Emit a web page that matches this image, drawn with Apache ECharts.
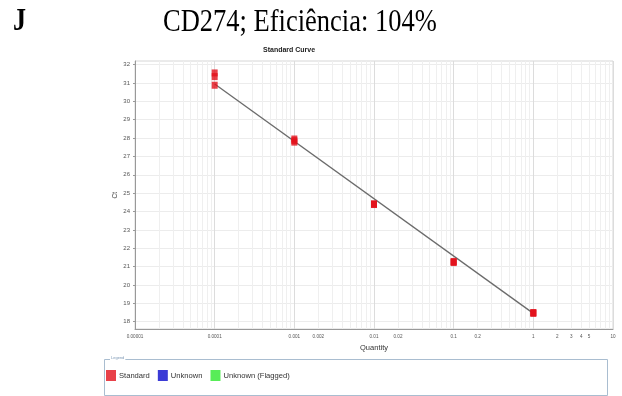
<!DOCTYPE html>
<html>
<head>
<meta charset="utf-8">
<script src="https://cdn.jsdelivr.net/npm/echarts@6/dist/echarts.min.js"></script>
<style>
  html, body { margin: 0; padding: 0; background: #fff; }
  #chart { width: 622px; height: 396px; }
</style>
</head>
<body>
<div id="chart"></div>
<script>
// Standard-curve replicates: quantity and Ct value of each well
const stdQuantity = [0.0001, 0.0001, 0.0001, 0.001, 0.001, 0.001, 0.01, 0.01, 0.01, 0.1, 0.1, 0.1, 1, 1, 1];
const stdCt       = [31.55, 31.35, 30.88, 27.95, 27.78, 27.86, 24.38, 24.42, 24.40, 21.22, 21.28, 21.25, 18.45, 18.50, 18.48];

// Fitted regression line end points
const fitQuantity = [0.0001, 1];
const fitCt       = [30.95, 18.45];

// Axis ticks
const xTickValues = [0.00001, 0.0001, 0.001, 0.002, 0.01, 0.02, 0.1, 0.2, 1, 2, 3, 4, 5, 10];
const xTickLabels = ['0.00001', '0.0001', '0.001', '0.002', '0.01', '0.02', '0.1', '0.2', '1', '2', '3', '4', '5', '10'];
const xDecades = [0.00001, 0.0001, 0.001, 0.01, 0.1, 1, 10];
const xMinorMultipliers = [2, 3, 4, 5, 6, 7, 8, 9];
const yTicks = [18, 19, 20, 21, 22, 23, 24, 25, 26, 27, 28, 29, 30, 31, 32];

// Log-grid lines: every 1..9 step inside each decade
const xMinorGrid = [];
xDecades.slice(0, -1).forEach(d => {
  xMinorMultipliers.forEach(m => xMinorGrid.push(+(d * m).toPrecision(3)));
});

const chart = echarts.init(document.getElementById('chart'));

const logAxisBase = {
  type: 'log',
  logBase: 10,
  min: 0.00001,
  max: 10,
  gridIndex: 0
};

chart.setOption({
  animation: false,
  backgroundColor: '#fff',
  graphic: [
    {
      type: 'text', left: 13, top: 6, scaleY: 1.2,
      style: { text: 'J', font: 'bold 26px "Liberation Serif"', fill: '#000' }
    },
    {
      type: 'text', left: 163, top: 6, scaleY: 1.2,
      style: { text: 'CD274; Eficiência: 104%', font: '26.5px "Liberation Serif"', fill: '#000' }
    },
    {
      type: 'text', left: 263, top: 47,
      style: { text: 'Standard Curve', font: 'bold 7px "Liberation Sans"', fill: '#222' }
    },
    {
      type: 'text', left: 112, top: 192, rotation: Math.PI / 2,
      style: { text: 'Ct', font: '6.5px "Liberation Sans"', fill: '#444' }
    },
    {
      type: 'rect', left: 104, top: 359, z: 0,
      shape: { width: 503, height: 36 },
      style: { fill: '#fff', stroke: '#a9bdd0', lineWidth: 1 }
    },
    {
      type: 'text', left: 110, top: 356, z: 2,
      style: { text: 'Legend', font: '4px "Liberation Sans"', fill: '#7d98b5', backgroundColor: '#fff', padding: [0, 1] }
    }
  ],
  legend: {
    left: 101,
    top: 365,
    icon: 'rect',
    itemWidth: 10,
    itemHeight: 11,
    itemGap: 8,
    textStyle: { fontFamily: 'Liberation Sans', fontSize: 7.6, color: '#333', padding: [0, 0, 0, -2] },
    data: ['Standard', 'Unknown', 'Unknown (Flagged)']
  },
  grid: { left: 135, right: 9, top: 61, bottom: 67, show: true, borderColor: '#d6d6d6', borderWidth: 1 },
  xAxis: [
    Object.assign({}, logAxisBase, {
      name: 'Quantity',
      nameLocation: 'middle',
      nameGap: 13,
      nameTextStyle: { fontFamily: 'Liberation Sans', fontSize: 7.5, color: '#333' },
      axisLine: { show: true, lineStyle: { color: '#999', width: 1 } },
      axisTick: { show: false, customValues: xMinorGrid },
      axisLabel: {
        customValues: xTickValues,
        fontFamily: 'Liberation Sans', fontSize: 4.6, color: '#555', margin: 5,
        formatter: v => {
          const i = xTickValues.findIndex(t => Math.abs(Math.log10(t) - Math.log10(v)) < 1e-6);
          return i >= 0 ? xTickLabels[i] : '';
        }
      },
      splitLine: { show: true, lineStyle: { color: '#efefef', width: 1 } }
    }),
    Object.assign({}, logAxisBase, {
      position: 'bottom',
      axisLine: { show: false },
      axisTick: { show: false, customValues: xDecades },
      axisLabel: { show: false },
      splitLine: { show: true, lineStyle: { color: '#dcdcdc', width: 1 } }
    })
  ],
  yAxis: {
    type: 'value',
    min: 17.6,
    max: 32.2,
    axisLine: { show: true, lineStyle: { color: '#999', width: 1 } },
    axisTick: { show: true, length: 2, customValues: yTicks, lineStyle: { color: '#999' } },
    axisLabel: { customValues: yTicks, fontFamily: 'Liberation Sans', fontSize: 6, color: '#555', margin: 5 },
    splitLine: { show: true, lineStyle: { color: '#ececec', width: 1 } }
  },
  series: [
    {
      name: 'Fit',
      type: 'line',
      xAxisIndex: 0,
      data: fitQuantity.map((q, i) => [q, fitCt[i]]),
      showSymbol: false,
      symbol: 'none',
      lineStyle: { color: '#6b6b6b', width: 1.3 },
      z: 3,
      silent: true
    },
    {
      name: 'Standard',
      type: 'scatter',
      xAxisIndex: 0,
      data: stdQuantity.map((q, i) => [q, stdCt[i]]),
      symbol: 'rect',
      symbolSize: [6, 7],
      itemStyle: { color: '#e2121b' },
      z: 4
    },
    {
      name: 'Unknown',
      type: 'scatter',
      xAxisIndex: 0,
      data: [],
      symbol: 'rect',
      itemStyle: { color: '#0a0acc' }
    },
    {
      name: 'Unknown (Flagged)',
      type: 'scatter',
      xAxisIndex: 0,
      data: [],
      symbol: 'rect',
      itemStyle: { color: '#2ee82e' }
    }
  ]
});
</script>
</body>
</html>
